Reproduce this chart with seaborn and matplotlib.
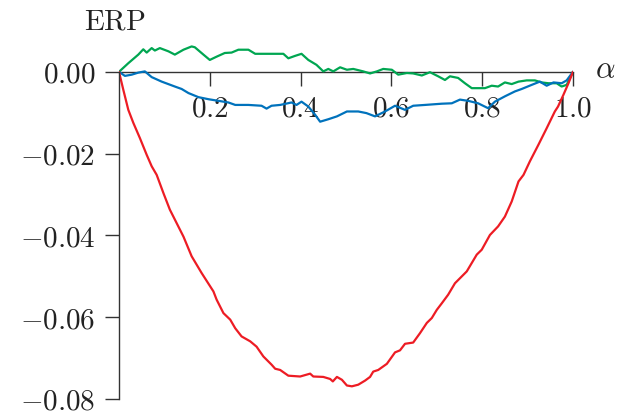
import matplotlib
matplotlib.use("Agg")
import matplotlib.pyplot as plt
import seaborn as sns
import pandas as pd

# ---- data ----
alpha_red = [0, 0.0095, 0.0205, 0.0316, 0.046, 0.061, 0.072, 0.083, 0.098, 0.112, 0.127, 0.142, 0.160, 0.182,
             0.208, 0.215, 0.230, 0.245, 0.256, 0.270, 0.289, 0.303, 0.318, 0.336, 0.344, 0.355, 0.373, 0.399,
             0.421, 0.428, 0.450, 0.465, 0.471, 0.480, 0.491, 0.502, 0.513, 0.527, 0.542, 0.553, 0.560, 0.571,
             0.590, 0.608, 0.619, 0.630, 0.648, 0.663, 0.678, 0.689, 0.700, 0.711, 0.725, 0.740, 0.766, 0.788,
             0.799, 0.817, 0.835, 0.850, 0.865, 0.880, 0.891, 0.905, 0.924, 0.942, 0.960, 0.967, 0.979, 0.990, 1.0]
erp_red = [0, -0.0044, -0.0093, -0.0125, -0.0162, -0.0203, -0.0231, -0.0252, -0.0297, -0.0337, -0.0370, -0.0403,
           -0.0451, -0.0492, -0.0537, -0.0557, -0.0590, -0.0606, -0.0627, -0.0647, -0.0659, -0.0672, -0.0696,
           -0.0716, -0.0726, -0.0729, -0.0743, -0.0745, -0.0738, -0.0745, -0.0746, -0.0751, -0.0757, -0.0746,
           -0.0753, -0.0767, -0.0769, -0.0765, -0.0755, -0.0746, -0.0733, -0.0729, -0.0714, -0.0686, -0.0681,
           -0.0665, -0.0662, -0.0639, -0.0614, -0.0602, -0.0582, -0.0566, -0.0545, -0.0517, -0.0488, -0.0447,
           -0.0435, -0.0399, -0.0378, -0.0354, -0.0317, -0.0268, -0.0252, -0.0219, -0.0178, -0.0138, -0.0097,
           -0.0085, -0.0056, -0.0028, 0.0]

alpha_blue = [0, 0.013, 0.028, 0.0425, 0.057, 0.072, 0.094, 0.123, 0.138, 0.153, 0.175, 0.197, 0.219, 0.241,
              0.256, 0.285, 0.314, 0.325, 0.336, 0.355, 0.380, 0.391, 0.402, 0.417, 0.432, 0.443, 0.461, 0.480,
              0.502, 0.527, 0.545, 0.564, 0.586, 0.608, 0.630, 0.648, 0.674, 0.711, 0.733, 0.751, 0.769, 0.791,
              0.813, 0.828, 0.850, 0.872, 0.887, 0.909, 0.927, 0.942, 0.957, 0.975, 0.986, 1.0]
erp_blue = [0, -0.0010, -0.0007, -0.0002, 0.0001, -0.0013, -0.0024, -0.0036, -0.0042, -0.0052, -0.0062, -0.0067,
            -0.0071, -0.0075, -0.0081, -0.0081, -0.0083, -0.0090, -0.0083, -0.0081, -0.0075, -0.0081, -0.0073,
            -0.0085, -0.0105, -0.0122, -0.0116, -0.0109, -0.0097, -0.0097, -0.0101, -0.0109, -0.0097, -0.0083,
            -0.0093, -0.0083, -0.0081, -0.0078, -0.0077, -0.0068, -0.0071, -0.0077, -0.0089, -0.0073, -0.0060,
            -0.0048, -0.0042, -0.0032, -0.0024, -0.0034, -0.0026, -0.0028, -0.0021, 0.0]

alpha_green = [0, 0.0205, 0.0425, 0.0535, 0.061, 0.072, 0.079, 0.090, 0.109, 0.123, 0.142, 0.160, 0.167, 0.186,
               0.200, 0.215, 0.233, 0.248, 0.263, 0.285, 0.300, 0.322, 0.344, 0.362, 0.373, 0.388, 0.402, 0.417,
               0.435, 0.450, 0.461, 0.472, 0.487, 0.502, 0.516, 0.538, 0.553, 0.568, 0.582, 0.601, 0.615, 0.634,
               0.648, 0.667, 0.685, 0.703, 0.718, 0.729, 0.747, 0.762, 0.777, 0.791, 0.806, 0.821, 0.835, 0.850,
               0.865, 0.880, 0.898, 0.916, 0.931, 0.946, 0.964, 0.975, 0.986, 1.0]
erp_green = [0, 0.0021, 0.0042, 0.0055, 0.0047, 0.0058, 0.0052, 0.0058, 0.0050, 0.0042, 0.0054, 0.0062, 0.0060,
             0.0042, 0.0029, 0.0037, 0.0046, 0.0047, 0.0054, 0.0054, 0.0044, 0.0044, 0.0044, 0.0044, 0.0033,
             0.0039, 0.0044, 0.0029, 0.0017, 0.0001, 0.0007, 0.0001, 0.0011, 0.0005, 0.0007, 0.0001, -0.0004,
             0.0001, 0.0007, 0.0005, -0.0007, -0.0003, -0.0004, -0.0009, -0.0001, -0.0011, -0.0020, -0.0011,
             -0.0015, -0.0028, -0.0040, -0.0040, -0.0040, -0.0034, -0.0036, -0.0026, -0.0030, -0.0024, -0.0021,
             -0.0021, -0.0026, -0.0028, -0.0028, -0.0036, -0.0032, 0.0]

x_ticks = [0.2, 0.4, 0.6, 0.8, 1.0]
x_tick_labels = ["0.2", "0.4", "0.6", "0.8", "1.0"]
y_ticks = [0.0, -0.02, -0.04, -0.06, -0.08]
y_tick_labels = ["0.00", "-0.02", "-0.04", "-0.06", "-0.08"]

sns.set_style("white")
plt.rcParams["mathtext.fontset"] = "cm"
plt.rcParams["font.family"] = ["DejaVu Serif"]

fig = plt.figure(figsize=(6.31, 4.16), dpi=100)
ax = fig.add_axes([119 / 631, 17 / 416, 454 / 631, (0.088 * 4090) / 416])

for xs, ys, col in [(alpha_green, erp_green, "#00A651"),
                    (alpha_blue, erp_blue, "#0072BC"),
                    (alpha_red, erp_red, "#ED1C24")]:
    df = pd.DataFrame({"alpha": xs, "erp": ys})
    sns.lineplot(data=df, x="alpha", y="erp", ax=ax, color=col, linewidth=1.6,
                 estimator=None, sort=False)

ax.set_xlim(0, 1.0)
ax.set_ylim(-0.08, 0.008)
ax.set_xlabel("")
ax.set_ylabel("")

for s in ["top", "right"]:
    ax.spines[s].set_visible(False)
ax.spines["left"].set_position(("data", 0))
ax.spines["bottom"].set_position(("data", 0))
ax.spines["left"].set_bounds(-0.08, 0)
ax.spines["bottom"].set_bounds(0, 1.0)
for s in ["left", "bottom"]:
    ax.spines[s].set_color("#333333")
    ax.spines[s].set_linewidth(1.0)
ax.spines["bottom"].set_zorder(0)

ax.set_xticks(x_ticks)
ax.set_xticklabels(["$" + t + "$" for t in x_tick_labels])
ax.set_yticks(y_ticks)
ax.set_yticklabels(["$" + t + "$" for t in y_tick_labels])
ax.tick_params(axis="both", direction="out", length=10, width=1.0, color="#333333",
               labelsize=21, labelcolor="#222222")
ax.tick_params(axis="x", pad=6, bottom=True)
ax.tick_params(axis="y", pad=7, left=True)

fig.text(115 / 631, 1 - 22 / 416, r"$\mathrm{ERP}$", ha="center", va="center", fontsize=21, color="#222222")
fig.text(605 / 631, 1 - 70 / 416, r"$\alpha$", ha="center", va="center", fontsize=22, color="#222222")

fig.savefig("out.png", dpi=100)
